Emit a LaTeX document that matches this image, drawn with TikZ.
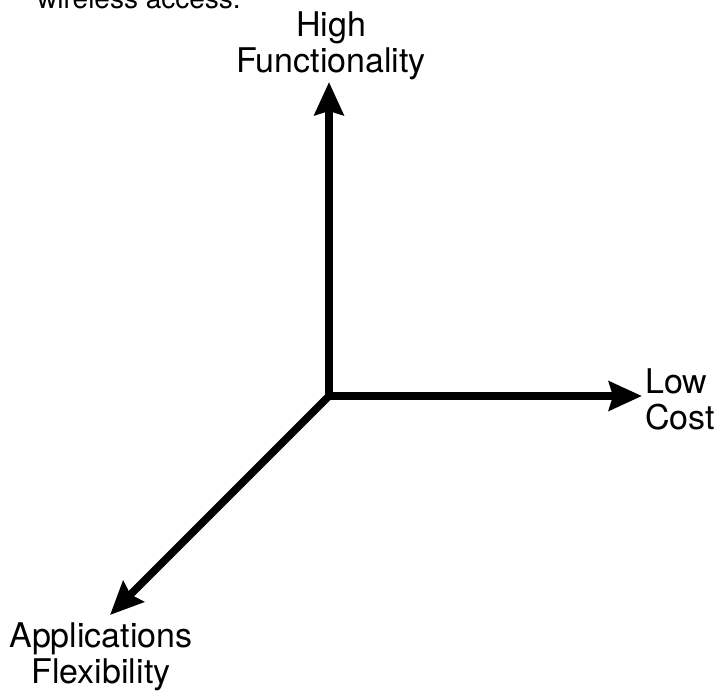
\documentclass[tikz,border=0pt]{standalone}
\usepackage{fontspec}
\setmainfont{TeX Gyre Heros}
\usetikzlibrary{arrows.meta}
\begin{document}
\begin{tikzpicture}[x=1pt,y=-1pt,
  lbl/.style={inner sep=0pt, font=\fontsize{34}{35.5}\selectfont},
  axis/.style={line width=7.5pt, -{Stealth[length=33pt,width=29pt,inset=4pt]}}]
\useasboundingbox (0,0) rectangle (714,690);
\node[anchor=base west, inner sep=0pt, font=\fontsize{28}{30}\selectfont] (top) at (37,9) {wireless access.};
\node[lbl, align=center, anchor=north] (hf) at (331,12) {High\\Functionality};
\node[lbl, align=left, anchor=north west] (lc) at (645,369) {Low\\Cost};
\node[lbl, align=center, anchor=north] (af) at (101,623) {Applications\\Flexibility};
\coordinate (o) at (329,396);
\coordinate (tv) at (329,82);
\coordinate (th) at (642,396);
\coordinate (td) at (110,615);
\draw[axis] (o) -- (tv);
\draw[axis] ([xshift=-3.75pt]o) -- (th);
\draw[axis] (o) -- (td);
\end{tikzpicture}
\end{document}
